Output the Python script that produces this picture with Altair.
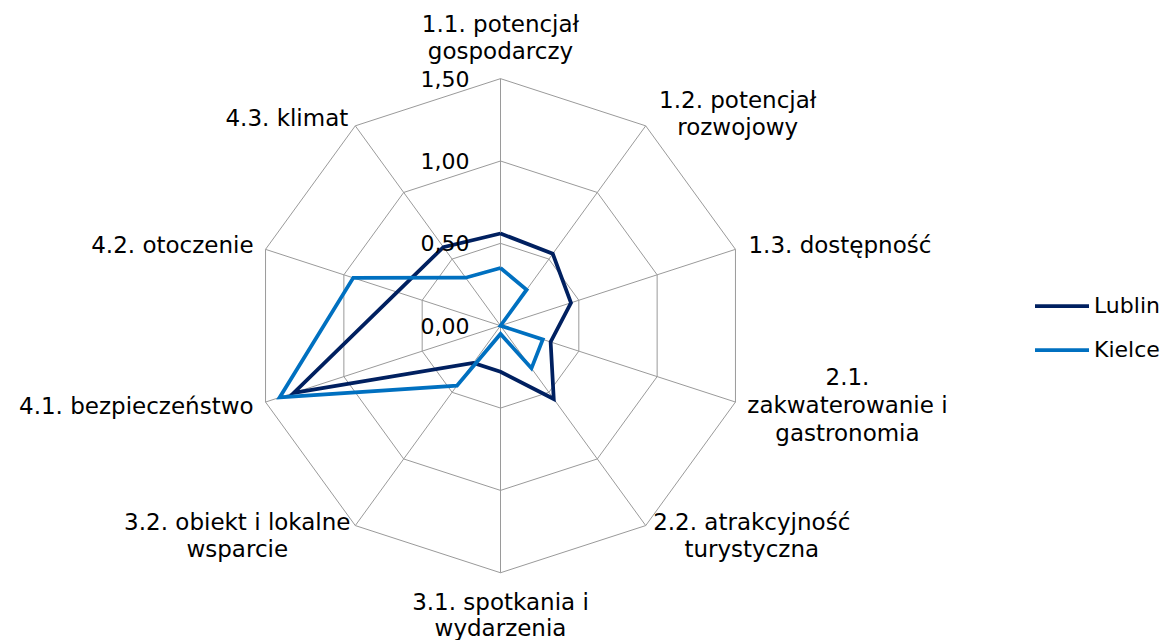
import altair as alt
import pandas as pd

# ---------------- data ----------------
categories = [
    "1.1. potencjał\ngospodarczy",
    "1.2. potencjał\nrozwojowy",
    "1.3. dostępność",
    "2.1.\nzakwaterowanie i\ngastronomia",
    "2.2. atrakcyjność\nturystyczna",
    "3.1. spotkania i\nwydarzenia",
    "3.2. obiekt i lokalne\nwsparcie",
    "4.1. bezpieczeństwo",
    "4.2. otoczenie",
    "4.3. klimat",
]
series = ["Lublin", "Kielce"]
lublin = [0.56, 0.54, 0.45, 0.32, 0.55, 0.28, 0.28, 1.32, 0.66, 0.59]
kielce = [0.35, 0.27, 0.00, 0.27, 0.32, 0.05, 0.45, 1.41, 0.94, 0.36]
tick_values = [0.0, 0.5, 1.0, 1.5]
tick_labels = ["0,00", "0,50", "1,00", "1,50"]

# ---------------- style / layout ----------------
colors = ["#002060", "#0070C0"]
grid_color = "#9A9A9A"
FONT = "DejaVu Sans"
FS = 23
K = 164.7            # px per unit
W, H = 1154, 632     # plot area
CX, CY = 492.5, 317.7
xs = alt.Scale(domain=[-CX / K, (W - CX) / K], nice=False, zero=False)
ys = alt.Scale(domain=[-(H - CY) / K, CY / K], nice=False, zero=False)
X = alt.X("px:Q", scale=xs, axis=None)
Y = alt.Y("py:Q", scale=ys, axis=None)

# (align, dx, dy, lineHeight) for each category label, anchored at the outer vertex
label_layout = [
    ("center", 0, -47, 27),
    ("center", 92, -18, 27),
    ("left", 13, 4, 27),
    ("center", 112, -17, 28),
    ("center", 106, 4, 27),
    ("center", 0, 37, 26),
    ("center", -118, 4, 27),
    ("right", -12, 12, 27),
    ("right", -12, 4, 27),
    ("right", -7, 0, 27),
]

N = len(categories)
RMAX = max(tick_values)
polar = dict(
    px=f"datum.value*sin(datum.idx*2*PI/{N})",
    py=f"datum.value*cos(datum.idx*2*PI/{N})",
)

rows = []
for s, vals in zip(series, [lublin, kielce]):
    for i in range(N + 1):
        rows.append({"series": s, "idx": i, "value": vals[i % N]})
series_df = pd.DataFrame(rows)

grid_df = pd.DataFrame(
    [{"level": lv, "idx": i, "value": lv} for lv in tick_values if lv > 0 for i in range(N + 1)]
)
spoke_df = pd.DataFrame([{"idx": i, "value": RMAX} for i in range(N)])
label_df = pd.DataFrame([{"idx": i, "value": RMAX, "label": c} for i, c in enumerate(categories)])
tick_df = pd.DataFrame({"value": tick_values, "label": tick_labels, "idx": [0] * len(tick_values)})

grid = alt.Chart(grid_df).transform_calculate(**polar).mark_line(
    stroke=grid_color, strokeWidth=1
).encode(x=X, y=Y, detail="level:N", order="idx:Q")

spokes = alt.Chart(spoke_df).transform_calculate(x0="0", y0="0", **polar).mark_rule(
    stroke=grid_color, strokeWidth=1
).encode(
    x=alt.X("x0:Q", scale=xs, axis=None),
    y=alt.Y("y0:Q", scale=ys, axis=None),
    x2="px:Q",
    y2="py:Q",
)

lines = alt.Chart(series_df).transform_calculate(**polar).mark_line(
    strokeWidth=3.75
).encode(
    x=X,
    y=Y,
    order="idx:Q",
    color=alt.Color(
        "series:N",
        sort=series,
        scale=alt.Scale(domain=series, range=colors),
        legend=alt.Legend(
            title=None,
            orient="none",
            legendX=1032,
            legendY=276,
            symbolType="M-1.35,0H1.35",
            symbolSize=1600,
            symbolStrokeWidth=3.75,
            labelFontSize=FS - 1,
            labelFont=FONT,
            labelColor="black",
            labelOffset=10,
            rowPadding=11,
            padding=0,
        ),
    ),
)

ticks = alt.Chart(tick_df).transform_calculate(x0="0", **polar).mark_text(
    align="right", baseline="middle", dx=-31, dy=1, fontSize=FS - 1, font=FONT, color="black"
).encode(x=alt.X("x0:Q", scale=xs, axis=None), y=Y, text="label:N")

layers = [grid, spokes, lines, ticks]
for i, (al, dx, dy, lh) in enumerate(label_layout):
    layers.append(
        alt.Chart(label_df)
        .transform_filter(f"datum.idx == {i}")
        .transform_calculate(**polar)
        .mark_text(
            align=al, baseline="alphabetic", dx=dx, dy=dy, fontSize=FS, font=FONT,
            color="black", lineBreak="\n", lineHeight=lh,
        )
        .encode(x=X, y=Y, text="label:N")
    )

chart = alt.layer(*layers).properties(
    width=W, height=H, autosize=alt.AutoSizeParams(type="none"), padding=0
).configure_view(stroke=None)

chart.save("out.html", embed_options={"renderer": "svg", "actions": False})
